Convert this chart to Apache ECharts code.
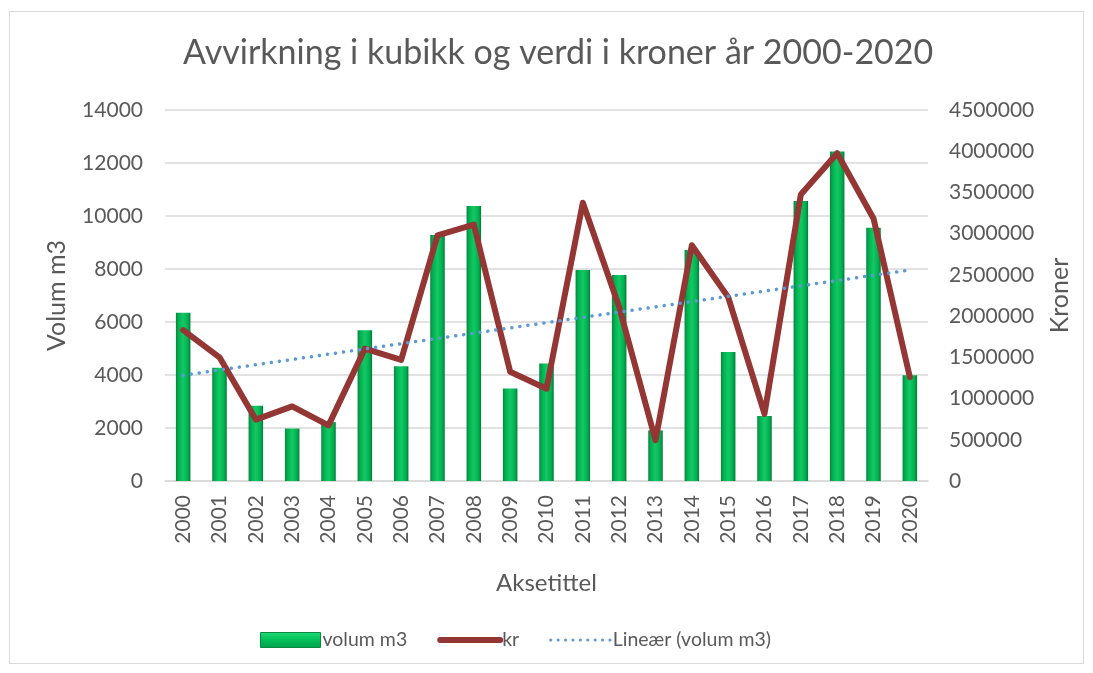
<!DOCTYPE html>
<html>
<head>
<meta charset="utf-8">
<script src="https://cdn.jsdelivr.net/npm/echarts@6/dist/echarts.min.js"></script>
<style>
html,body{margin:0;padding:0;background:#fff;}
#frame{position:absolute;left:9px;top:11px;width:1075px;height:653px;border:1.5px solid #d9d9d9;box-sizing:border-box;}
#chart{position:absolute;left:0;top:0;width:1093px;height:673px;}
</style>
</head>
<body>
<div id="frame"></div>
<div id="chart"></div>
<script>
const years = ['2000','2001','2002','2003','2004','2005','2006','2007','2008','2009','2010','2011','2012','2013','2014','2015','2016','2017','2018','2019','2020'];
const volum = [6350, 4270, 2840, 1980, 2220, 5690, 4330, 9280, 10380, 3490, 4430, 7960, 7770, 1910, 8720, 4870, 2450, 10570, 12430, 9560, 3990];
const kroner = [1830000, 1500000, 745000, 905000, 675000, 1605000, 1470000, 2980000, 3110000, 1325000, 1120000, 3375000, 2110000, 495000, 2860000, 2230000, 815000, 3475000, 3975000, 3185000, 1260000];
const leftTicks = {min: 0, max: 14000, interval: 2000};
const rightTicks = {min: 0, max: 4500000, interval: 500000};

// Linear trendline (least squares) of volum, as Excel's "Lineær"
const n = volum.length;
let sx=0, sy=0, sxy=0, sxx=0;
volum.forEach((v,i)=>{sx+=i; sy+=v; sxy+=i*v; sxx+=i*i;});
const slope = (n*sxy - sx*sy)/(n*sxx - sx*sx);
const icpt = (sy - slope*sx)/n;
const trend = volum.map((v,i)=>+(icpt + slope*i).toFixed(1));

const FONT = 'Lato';
const TXT = '#595959';
const chart = echarts.init(document.getElementById('chart'), null, {renderer:'canvas'});
const barGrad = new echarts.graphic.LinearGradient(0,0,1,0,[
  {offset:0, color:'#07853e'},
  {offset:0.18, color:'#00b050'},
  {offset:0.5, color:'#14c864'},
  {offset:0.82, color:'#00b050'},
  {offset:1, color:'#077a3a'}
]);
const legGrad = new echarts.graphic.LinearGradient(0,0,0,1,[
  {offset:0, color:'#1fd873'},
  {offset:0.5, color:'#00c05a'},
  {offset:1, color:'#00a04a'}
]);
chart.setOption({
  animation:false,
  textStyle:{fontFamily:FONT, color:TXT},
  title:{
    text:'Avvirkning i kubikk og verdi i kroner år 2000-2020',
    left:178, top:31,
    textStyle:{fontFamily:FONT, fontSize:34, fontWeight:'normal', color:TXT}
  },
  legend:{
    bottom:18, left:255,
    itemWidth:60, itemHeight:15, itemGap:30,
    textStyle:{fontFamily:FONT, fontSize:19.5, color:TXT, padding:[0,0,0,-3]},
    data:[
      {name:'volum m3', icon:'rect', itemStyle:{color:legGrad, borderColor:'#0a8a40', borderWidth:1}},
      {name:'kr', itemStyle:{opacity:0}, lineStyle:{width:6, color:'#943634', cap:'round'}},
      {name:'Lineær (volum m3)', itemStyle:{opacity:0}, lineStyle:{width:3, color:'#5b9bd5', type:[0.1,7.3], cap:'round'}}
    ]
  },
  grid:{left:165, right:165, top:110, bottom:192},
  xAxis:{
    type:'category', data:years,
    name:'Aksetittel', nameLocation:'middle', nameGap:90,
    nameTextStyle:{fontFamily:FONT, fontSize:24, color:TXT},
    axisLine:{lineStyle:{color:'#d9d9d9', width:1.5}},
    axisTick:{show:false},
    axisLabel:{rotate:90, fontFamily:FONT, fontSize:21, color:TXT, margin:14}
  },
  yAxis:[
    {
      type:'value', min:leftTicks.min, max:leftTicks.max, interval:leftTicks.interval,
      name:'Volum m3', nameLocation:'middle', nameRotate:90, nameGap:96,
      nameTextStyle:{fontFamily:FONT, fontSize:25, color:TXT},
      axisLine:{show:false}, axisTick:{show:false},
      axisLabel:{fontFamily:FONT, fontSize:21, color:TXT, margin:22, formatter:v=>String(v)},
      splitLine:{lineStyle:{color:'#d9d9d9', width:1.5}}
    },
    {
      type:'value', min:rightTicks.min, max:rightTicks.max, interval:rightTicks.interval,
      name:'Kroner', nameLocation:'middle', nameRotate:90, nameGap:119,
      nameTextStyle:{fontFamily:FONT, fontSize:25, color:TXT},
      axisLine:{show:false}, axisTick:{show:false},
      axisLabel:{fontFamily:FONT, fontSize:21, color:TXT, margin:21, formatter:v=>String(v)},
      splitLine:{show:false}
    }
  ],
  series:[
    {
      name:'volum m3', type:'bar', yAxisIndex:0, data:volum,
      barWidth:'40%',
      itemStyle:{color:barGrad}
    },
    {
      name:'kr', type:'line', yAxisIndex:1, data:kroner,
      showSymbol:false, symbol:'none',
      lineStyle:{color:'#943634', width:6, cap:'round', join:'round'},
      itemStyle:{color:'#943634'}
    },
    {
      name:'Lineær (volum m3)', type:'line', yAxisIndex:0, data:trend,
      showSymbol:false, symbol:'none',
      lineStyle:{color:'#5b9bd5', width:3.5, type:[0.1,8], cap:'round'},
      itemStyle:{color:'#5b9bd5'}
    }
  ]
});
</script>
</body>
</html>
